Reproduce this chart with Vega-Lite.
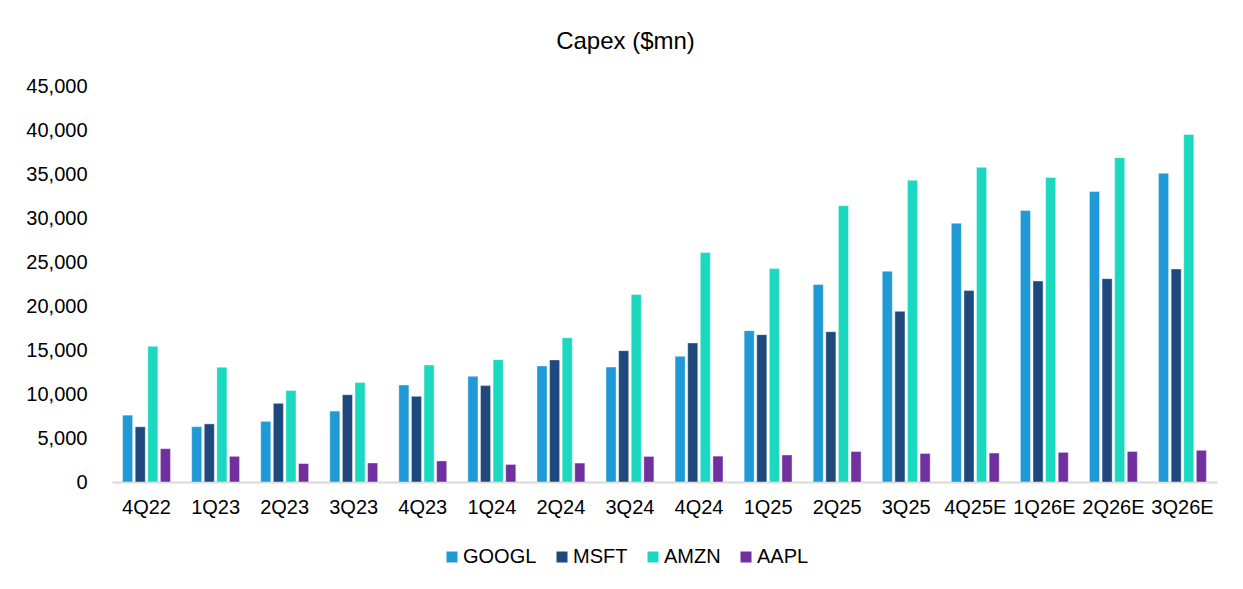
{
  "$schema": "https://vega.github.io/schema/vega-lite/v6.json",
  "width": 1105,
  "height": 396,
  "autosize": {"type": "none"},
  "padding": {"left": 112, "top": 86, "right": 26, "bottom": 107},
  "background": "white",
  "config": {"view": {"stroke": null}, "font": "Liberation Sans"},
  "title": {"text": "Capex ($mn)", "fontSize": 24, "font": "Liberation Sans", "fontWeight": "normal", "color": "#000000", "anchor": "middle", "dx": -39, "offset": 22},
  "data": {"values": [
    {"q": "4Q22", "t": "GOOGL", "v": 7595}, {"q": "4Q22", "t": "MSFT", "v": 6274}, {"q": "4Q22", "t": "AMZN", "v": 15420}, {"q": "4Q22", "t": "AAPL", "v": 3787},
    {"q": "1Q23", "t": "GOOGL", "v": 6289}, {"q": "1Q23", "t": "MSFT", "v": 6607}, {"q": "1Q23", "t": "AMZN", "v": 13040}, {"q": "1Q23", "t": "AAPL", "v": 2916},
    {"q": "2Q23", "t": "GOOGL", "v": 6888}, {"q": "2Q23", "t": "MSFT", "v": 8943}, {"q": "2Q23", "t": "AMZN", "v": 10400}, {"q": "2Q23", "t": "AAPL", "v": 2093},
    {"q": "3Q23", "t": "GOOGL", "v": 8055}, {"q": "3Q23", "t": "MSFT", "v": 9917}, {"q": "3Q23", "t": "AMZN", "v": 11300}, {"q": "3Q23", "t": "AAPL", "v": 2163},
    {"q": "4Q23", "t": "GOOGL", "v": 11019}, {"q": "4Q23", "t": "MSFT", "v": 9735}, {"q": "4Q23", "t": "AMZN", "v": 13300}, {"q": "4Q23", "t": "AAPL", "v": 2392},
    {"q": "1Q24", "t": "GOOGL", "v": 12012}, {"q": "1Q24", "t": "MSFT", "v": 10952}, {"q": "1Q24", "t": "AMZN", "v": 13900}, {"q": "1Q24", "t": "AAPL", "v": 1996},
    {"q": "2Q24", "t": "GOOGL", "v": 13186}, {"q": "2Q24", "t": "MSFT", "v": 13873}, {"q": "2Q24", "t": "AMZN", "v": 16400}, {"q": "2Q24", "t": "AAPL", "v": 2151},
    {"q": "3Q24", "t": "GOOGL", "v": 13061}, {"q": "3Q24", "t": "MSFT", "v": 14923}, {"q": "3Q24", "t": "AMZN", "v": 21300}, {"q": "3Q24", "t": "AAPL", "v": 2908},
    {"q": "4Q24", "t": "GOOGL", "v": 14276}, {"q": "4Q24", "t": "MSFT", "v": 15804}, {"q": "4Q24", "t": "AMZN", "v": 26070}, {"q": "4Q24", "t": "AAPL", "v": 2940},
    {"q": "1Q25", "t": "GOOGL", "v": 17197}, {"q": "1Q25", "t": "MSFT", "v": 16745}, {"q": "1Q25", "t": "AMZN", "v": 24250}, {"q": "1Q25", "t": "AAPL", "v": 3071},
    {"q": "2Q25", "t": "GOOGL", "v": 22446}, {"q": "2Q25", "t": "MSFT", "v": 17079}, {"q": "2Q25", "t": "AMZN", "v": 31400}, {"q": "2Q25", "t": "AAPL", "v": 3462},
    {"q": "3Q25", "t": "GOOGL", "v": 23953}, {"q": "3Q25", "t": "MSFT", "v": 19394}, {"q": "3Q25", "t": "AMZN", "v": 34280}, {"q": "3Q25", "t": "AAPL", "v": 3242},
    {"q": "4Q25E", "t": "GOOGL", "v": 29400}, {"q": "4Q25E", "t": "MSFT", "v": 21750}, {"q": "4Q25E", "t": "AMZN", "v": 35760}, {"q": "4Q25E", "t": "AAPL", "v": 3290},
    {"q": "1Q26E", "t": "GOOGL", "v": 30840}, {"q": "1Q26E", "t": "MSFT", "v": 22840}, {"q": "1Q26E", "t": "AMZN", "v": 34600}, {"q": "1Q26E", "t": "AAPL", "v": 3370},
    {"q": "2Q26E", "t": "GOOGL", "v": 33000}, {"q": "2Q26E", "t": "MSFT", "v": 23110}, {"q": "2Q26E", "t": "AMZN", "v": 36860}, {"q": "2Q26E", "t": "AAPL", "v": 3480},
    {"q": "3Q26E", "t": "GOOGL", "v": 35080}, {"q": "3Q26E", "t": "MSFT", "v": 24200}, {"q": "3Q26E", "t": "AMZN", "v": 39500}, {"q": "3Q26E", "t": "AAPL", "v": 3600}
  ]},
  "mark": {"type": "bar", "stroke": "white", "strokeOpacity": 0.5, "strokeWidth": 0.8},
  "encoding": {
    "x": {
      "field": "q", "type": "nominal",
      "sort": ["4Q22","1Q23","2Q23","3Q23","4Q23","1Q24","2Q24","3Q24","4Q24","1Q25","2Q25","3Q25","4Q25E","1Q26E","2Q26E","3Q26E"],
      "scale": {"paddingInner": 0.27, "paddingOuter": 0.135},
      "axis": {"title": null, "labelAngle": 0, "labelFontSize": 20, "labelColor": "#000000", "labelFont": "Liberation Sans", "ticks": false, "tickSize": 0, "labelPadding": 15, "domainColor": "#D9D9D9", "domainWidth": 2}
    },
    "xOffset": {
      "field": "t", "type": "nominal",
      "sort": ["GOOGL", "MSFT", "AMZN", "AAPL"],
      "scale": {"paddingInner": 0.2, "paddingOuter": 0.1}
    },
    "y": {
      "field": "v", "type": "quantitative",
      "scale": {"domain": [0, 45000], "nice": false},
      "axis": {"title": null, "values": [0,5000,10000,15000,20000,25000,30000,35000,40000,45000], "format": ",.0f", "grid": false, "domain": false, "ticks": false, "tickSize": 0, "labelFontSize": 20, "labelPadding": 25, "labelColor": "#000000", "labelFont": "Liberation Sans"}
    },
    "color": {
      "field": "t", "type": "nominal",
      "sort": ["GOOGL", "MSFT", "AMZN", "AAPL"],
      "scale": {"domain": ["GOOGL", "MSFT", "AMZN", "AAPL"], "range": ["#1F9AD6", "#1F497D", "#1BD8C1", "#7030A0"]},
      "legend": {"title": null, "orient": "none", "legendX": 330, "legendY": 461, "direction": "horizontal", "padding": 0, "symbolType": "square", "symbolSize": 121, "symbolStrokeWidth": 0, "labelFontSize": 20, "labelFont": "Liberation Sans", "labelColor": "#000000", "labelOffset": 1, "columnPadding": 15}
    }
  }
}
